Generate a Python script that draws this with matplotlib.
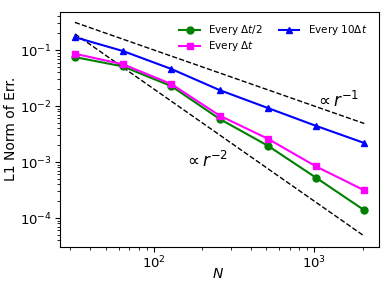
import numpy as np
import matplotlib
matplotlib.use("Agg")
import matplotlib.pyplot as plt

N = [32, 64, 128, 256, 512, 1024, 2048]
err_half = [0.075, 0.051, 0.0227, 0.0059, 0.00196, 0.000526, 0.000138]
err_one = [0.086, 0.0557, 0.0247, 0.00676, 0.00261, 0.000835, 0.000313]
err_ten = [0.17, 0.096, 0.046, 0.0193, 0.00925, 0.00443, 0.00219]
c1 = 10.0
c2 = 200.0

fig = plt.figure(figsize=(3.9, 2.93), dpi=100)
ax = fig.add_axes([0.155, 0.158, 0.816, 0.802])

Na = np.array(N, dtype=float)
ax.loglog(Na, c1 / Na, 'k--', lw=1.0)
ax.loglog(Na, c2 / Na**2, 'k--', lw=1.0)
ax.loglog(N, err_half, '-o', color='green', lw=1.5, ms=5, label=r'Every $\Delta t/2$')
ax.loglog(N, err_one, '-s', color='magenta', lw=1.5, ms=5, label=r'Every $\Delta t$')
ax.loglog(N, err_ten, '-^', color='blue', lw=1.5, ms=5, label=r'Every $10\Delta t$')

ax.text(1390, 0.0125, r'$\propto r^{-1}$', fontsize=12, ha='center', va='center')
ax.text(211, 0.00105, r'$\propto r^{-2}$', fontsize=12, ha='center', va='center')

ax.set_xlabel(r'$N$', fontsize=10)
ax.set_ylabel('L1 Norm of Err.', fontsize=10)
ax.xaxis.set_label_coords(0.496, -0.088)
ax.yaxis.set_label_coords(-0.133, 0.5)
ax.tick_params(labelsize=9.5, pad=2.5)
ax.legend(ncol=2, frameon=False, fontsize=7.5, loc='upper right',
          columnspacing=1.5, borderaxespad=0.7, labelspacing=0.2)

fig.savefig('out.png', dpi=100)
